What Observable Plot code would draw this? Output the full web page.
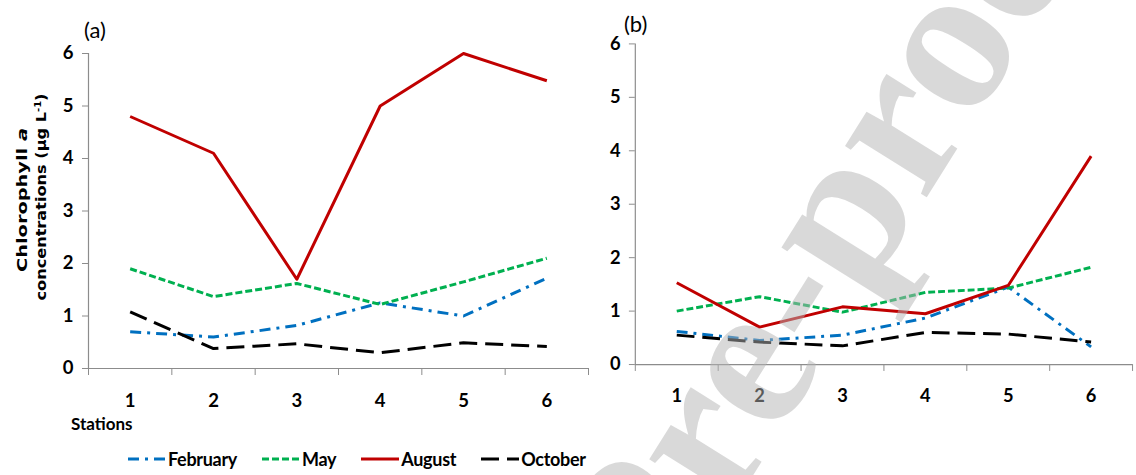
<!DOCTYPE html>
<html>
<head>
<meta charset="utf-8">
<script src="https://cdn.jsdelivr.net/npm/d3@7"></script>
<script src="https://cdn.jsdelivr.net/npm/@observablehq/plot@0.6"></script>
<style>
  html, body { margin: 0; padding: 0; background: #fff; overflow: hidden; }
  #root { position: relative; width: 1136px; height: 475px; }
  .panel { position: absolute; top: 0; }
  #legend { position: absolute; left: 128px; top: 448px; display: flex; gap: 25px; align-items: center;
    font-family: Lato, "Open Sans", sans-serif; font-weight: bold; font-size: 18px; letter-spacing: -0.3px; color: #000; }
  #legend .item { display: flex; align-items: center; gap: 2px; }
  #overlay { position: absolute; left: 0; top: 0; pointer-events: none; }
</style>
</head>
<body>
<div id="root">
  <div id="panelA" class="panel" style="left:0px"></div>
  <div id="panelB" class="panel" style="left:548px"></div>
  <div id="legend"></div>
</div>
<script>
// ---- data ----
const stations = [1, 2, 3, 4, 5, 6];
const yTicks = [0, 1, 2, 3, 4, 5, 6];
const seriesNames = ["February", "May", "August", "October"];
const seriesColors = ["#0070C0", "#00B050", "#C00000", "#000000"];
const seriesDashes = ["11,6,3,6", "7,3", null, "18,8"];

// panel (a)
const aFebruary = [0.70, 0.60, 0.82, 1.25, 1.00, 1.72];
const aMay      = [1.90, 1.37, 1.62, 1.22, 1.65, 2.10];
const aAugust   = [4.80, 4.10, 1.70, 5.00, 6.00, 5.48];
const aOctober  = [1.08, 0.38, 0.47, 0.30, 0.49, 0.42];
// panel (b)
const bFebruary = [0.62, 0.45, 0.55, 0.87, 1.45, 0.33];
const bMay      = [1.00, 1.27, 0.98, 1.35, 1.43, 1.82];
const bAugust   = [1.53, 0.70, 1.08, 0.95, 1.48, 3.90];
const bOctober  = [0.55, 0.42, 0.35, 0.60, 0.57, 0.42];

const tickFont = 'Lato, "Open Sans", sans-serif';

function rows(seriesValues) {
  const out = [];
  seriesValues.forEach((vals, i) => {
    vals.forEach((v, j) => out.push({series: seriesNames[i], station: stations[j], value: v}));
  });
  return out;
}

const boundaries = [stations[0] - 0.5, ...stations.map(s => s + 0.5)];

function panel(seriesValues, opts) {
  const data = rows(seriesValues);
  const lines = seriesNames.map((name, i) =>
    Plot.line(data.filter(d => d.series === name), {
      x: "station", y: "value",
      stroke: seriesColors[i], strokeWidth: 3,
      strokeDasharray: seriesDashes[i] || undefined,
      strokeLinecap: "butt", strokeLinejoin: "round"
    })
  );
  return Plot.plot({
    width: opts.width, height: 440,
    marginLeft: 88, marginRight: opts.marginRight, marginTop: opts.marginTop, marginBottom: opts.marginBottom,
    style: {background: "transparent", overflow: "visible", fontFamily: tickFont, fontWeight: "bold", fontSize: "18px", color: "#000"},
    x: {domain: [boundaries[0], boundaries[boundaries.length - 1]], axis: null},
    y: {domain: [0, 6], axis: null},
    marks: [
      Plot.ruleY([0], {stroke: "#8c8c8c", strokeWidth: 1.2}),
      Plot.ruleX([boundaries[0]], {stroke: "#8c8c8c", strokeWidth: 1.2}),
      Plot.axisY({ticks: yTicks, tickSize: 6, tickPadding: 9, stroke: "#8c8c8c", fill: "#000", tickFormat: d3.format("d"), fontSize: 18.5, label: null}),
      Plot.axisX({ticks: boundaries, tickSize: 7, tickFormat: () => "", stroke: "#8c8c8c", label: null}),
      Plot.axisX({ticks: stations, tickSize: 0, tickPadding: 25, fill: "#000", tickFormat: d3.format("d"), fontSize: 18.5, label: null}),
      ...lines
    ]
  });
}

document.getElementById("panelA").append(panel([aFebruary, aMay, aAugust, aOctober], {width: 590, marginRight: 2, marginTop: 53, marginBottom: 72}));
document.getElementById("panelB").append(panel([bFebruary, bMay, bAugust, bOctober], {width: 596, marginRight: 4, marginTop: 44, marginBottom: 71}));

// ---- legend ----
const legend = d3.select("#legend");
seriesNames.forEach((name, i) => {
  const item = legend.append("div").attr("class", "item");
  const svg = item.append("svg").attr("width", 38).attr("height", 10);
  svg.append("line").attr("x1", 0).attr("x2", 38).attr("y1", 5).attr("y2", 5)
    .attr("stroke", seriesColors[i]).attr("stroke-width", 3)
    .attr("stroke-dasharray", seriesDashes[i]);
  item.append("span").text(name);
});

// ---- annotations + watermark overlay ----
const ov = d3.select("#root").append("svg").attr("id", "overlay").attr("width", 1136).attr("height", 475);
const labFont = '"DejaVu Sans", Verdana, sans-serif';
const l1 = ov.append("text").attr("transform", "translate(27,200) rotate(-90)").attr("text-anchor", "middle")
  .attr("font-family", labFont).attr("font-weight", "bold").attr("font-size", 14.5)
  .attr("textLength", 144).attr("lengthAdjust", "spacingAndGlyphs");
l1.append("tspan").text("Chlorophyll ");
l1.append("tspan").attr("font-style", "italic").text("a");
const l2 = ov.append("text").attr("transform", "translate(46,197) rotate(-90)").attr("text-anchor", "middle")
  .attr("font-family", labFont).attr("font-weight", "bold").attr("font-size", 14.5)
  .attr("textLength", 207).attr("lengthAdjust", "spacingAndGlyphs");
l2.append("tspan").text("concentrations (µg L");
l2.append("tspan").attr("dy", -5).attr("font-size", 9).text("-1");
l2.append("tspan").attr("dy", 5).text(")");

ov.append("text").attr("x", 84).attr("y", 38).attr("font-family", tickFont).attr("font-size", 22).text("(a)");
ov.append("text").attr("x", 624).attr("y", 32).attr("font-family", tickFont).attr("font-size", 22).text("(b)");
ov.append("text").attr("x", 71).attr("y", 430).attr("font-family", tickFont).attr("font-weight", "bold").attr("font-size", 17).text("Stations");

// watermark
ov.append("text")
  .attr("transform", "translate(660,624) rotate(-58)")
  .attr("font-family", '"Liberation Serif", "DejaVu Serif", serif').attr("font-weight", "bold").attr("font-size", 210)
  .attr("fill", "rgb(180,180,180)").attr("fill-opacity", 0.5)
  .text("Pre-proof");
</script>
</body>
</html>
